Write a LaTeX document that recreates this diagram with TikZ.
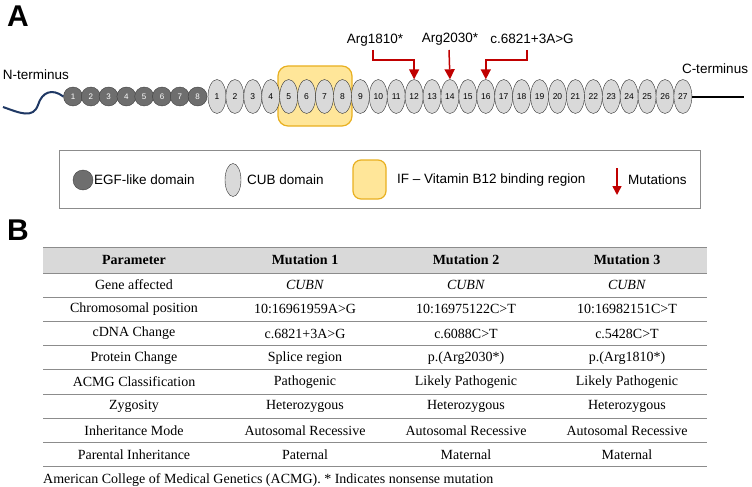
\documentclass[tikz,border=0pt]{standalone}
\usepackage{fontspec}
\setmainfont{Liberation Serif}
\setsansfont{Liberation Sans}
\usetikzlibrary{shapes.geometric,arrows.meta}
\definecolor{egfgray}{HTML}{6E6E6E}
\definecolor{cubgray}{HTML}{D9D9D9}
\definecolor{ifyellow}{HTML}{FFE699}
\definecolor{ifborder}{HTML}{E8B020}
\definecolor{mutred}{HTML}{C00000}
\definecolor{navy}{HTML}{1F3864}
\definecolor{rulegray}{HTML}{8C8C8C}
\definecolor{headgray}{HTML}{D9D9D9}
\begin{document}
\begin{tikzpicture}[x=1pt,y=-1pt,
 egf/.style={circle,draw=black!75,fill=egfgray,minimum size=19pt,inner sep=0pt,text=white,font=\sffamily\fontsize{8}{9}\selectfont},
 cub/.style={ellipse,draw=black!80,fill=cubgray,minimum width=18pt,minimum height=34pt,inner sep=0pt,font=\sffamily\fontsize{8.5}{9}\selectfont},
 ifbox/.style={rectangle,rounded corners=10pt,draw=ifborder,fill=ifyellow,line width=1.2pt,inner sep=0pt},
 lbl/.style={font=\sffamily\fontsize{13.5}{16}\selectfont,inner sep=0pt},
 mut/.style={draw=mutred,line width=1.5pt,-{Triangle[length=10pt,width=10pt]}},
 panel/.style={font=\sffamily\bfseries\fontsize{30}{32}\selectfont,inner sep=0pt},
 cell/.style={font=\fontsize{14}{16}\selectfont,inner sep=0pt},
 head/.style={font=\bfseries\fontsize{14}{16}\selectfont,inner sep=0pt},
 rulez/.style={draw=rulegray,line width=1pt}
]
\useasboundingbox (0,0) rectangle (752,487);

% ---------- Panel A ----------
\node[panel] (A) at (18,16) {A};
\node[lbl] (nterm) at (36,75) {N-terminus};
\node[lbl] (cterm) at (715,69) {C-terminus};

% IF region box (behind)
\node[ifbox,minimum width=74pt,minimum height=60pt] (ifregion) at (315,96) {};

% EGF domains
\foreach \i in {1,...,8}{
  \node[egf] (egf\i) at ({73+(\i-1)*17.8},96.5) {\i};
}
% CUB domains
\foreach \i in {1,...,27}{
  \node[cub] (cub\i) at ({217+(\i-1)*17.92},96.5) {\i};
}

% N-terminal tail
\coordinate (nstart) at (3,107);
\draw[navy,line width=2pt] (nstart) .. controls (20,113) and (33,119) .. (38,105)
   .. controls (42,92) and (52,88) .. (egf1.west);
% C-terminal tail
\coordinate (cend) at (744,96.5);
\draw[line width=2pt] (cub27.east) -- (cend);

% Mutations
\node[lbl] (m1) at (375,40) {Arg1810*};
\node[lbl] (m2) at (450,39) {Arg2030*};
\node[lbl] (m3) at (532,39) {c.6821+3A>G};
\coordinate (m1s) at (373,50);
\coordinate (m2s) at (449,50);
\coordinate (m3s) at (527,50);
\draw[mut] (m1s) -- ++(0,10) -| (cub12.north);
\draw[mut] (m2s) -- (cub14.north);
\draw[mut] (m3s) -- ++(0,10) -| (cub16.north);

% Legend
\draw[draw=rulegray,line width=1pt] (59,150) rectangle (700,208);
\node[egf,minimum size=20pt] (legegf) at (83,180) {};
\node[lbl,anchor=west] (legegft) at (94,180) {EGF-like domain};
\node[cub,minimum width=16pt,minimum height=33pt] (legcub) at (233,180) {};
\node[lbl,anchor=west] (legcubt) at (247,180) {CUB domain};
\node[ifbox,minimum width=33pt,minimum height=39pt,rounded corners=8pt] (legif) at (369.5,179.5) {};
\node[lbl,anchor=west] (legift) at (397,180) {IF -- Vitamin B12 binding region};
\coordinate (legmuts) at (617,168);
\coordinate (legmute) at (617,195);
\draw[draw=mutred,line width=1.5pt,-{Triangle[length=9pt,width=9pt]}] (legmuts) -- (legmute);
\node[lbl,anchor=west] (legmutt) at (628,180) {Mutations};

% ---------- Panel B ----------
\node[panel] (B) at (18,230.5) {B};

\fill[headgray] (43,247) rectangle (707,273);
\foreach \k in {0,...,8}{
  \draw[rulez] (43,{273+24.2*\k}) -- (707,{273+24.2*\k});
}
\draw[rulez] (43,247) -- (707,247);

\node[head] (h0) at (134,260) {Parameter};
\node[head] (h1) at (305,260) {Mutation 1};
\node[head] (h2) at (466,260) {Mutation 2};
\node[head] (h3) at (627,260) {Mutation 3};

\def\ry#1{{285.1+24.2*(#1-1)}}
\node[cell] (r1c0) at (134,\ry{1}) {Gene affected};
\node[cell] (r1c1) at (305,\ry{1}) {\textit{CUBN}};
\node[cell] (r1c2) at (466,\ry{1}) {\textit{CUBN}};
\node[cell] (r1c3) at (627,\ry{1}) {\textit{CUBN}};

\node[cell] (r2c0) at (134,\ry{2}) {Chromosomal position};
\node[cell] (r2c1) at (305,\ry{2}) {10:16961959A>G};
\node[cell] (r2c2) at (466,\ry{2}) {10:16975122C>T};
\node[cell] (r2c3) at (627,\ry{2}) {10:16982151C>T};

\node[cell] (r3c0) at (134,\ry{3}) {cDNA Change};
\node[cell] (r3c1) at (305,\ry{3}) {c.6821+3A>G};
\node[cell] (r3c2) at (466,\ry{3}) {c.6088C>T};
\node[cell] (r3c3) at (627,\ry{3}) {c.5428C>T};

\node[cell] (r4c0) at (134,\ry{4}) {Protein Change};
\node[cell] (r4c1) at (305,\ry{4}) {Splice region};
\node[cell] (r4c2) at (466,\ry{4}) {p.(Arg2030*)};
\node[cell] (r4c3) at (627,\ry{4}) {p.(Arg1810*)};

\node[cell] (r5c0) at (134,\ry{5}) {ACMG Classification};
\node[cell] (r5c1) at (305,\ry{5}) {Pathogenic};
\node[cell] (r5c2) at (466,\ry{5}) {Likely Pathogenic};
\node[cell] (r5c3) at (627,\ry{5}) {Likely Pathogenic};

\node[cell] (r6c0) at (134,\ry{6}) {Zygosity};
\node[cell] (r6c1) at (305,\ry{6}) {Heterozygous};
\node[cell] (r6c2) at (466,\ry{6}) {Heterozygous};
\node[cell] (r6c3) at (627,\ry{6}) {Heterozygous};

\node[cell] (r7c0) at (134,\ry{7}) {Inheritance Mode};
\node[cell] (r7c1) at (305,\ry{7}) {Autosomal Recessive};
\node[cell] (r7c2) at (466,\ry{7}) {Autosomal Recessive};
\node[cell] (r7c3) at (627,\ry{7}) {Autosomal Recessive};

\node[cell] (r8c0) at (134,\ry{8}) {Parental Inheritance};
\node[cell] (r8c1) at (305,\ry{8}) {Paternal};
\node[cell] (r8c2) at (466,\ry{8}) {Maternal};
\node[cell] (r8c3) at (627,\ry{8}) {Maternal};

\node[cell,anchor=west] (foot) at (43,480) {American College of Medical Genetics (ACMG). * Indicates nonsense mutation};
\end{tikzpicture}
\end{document}
